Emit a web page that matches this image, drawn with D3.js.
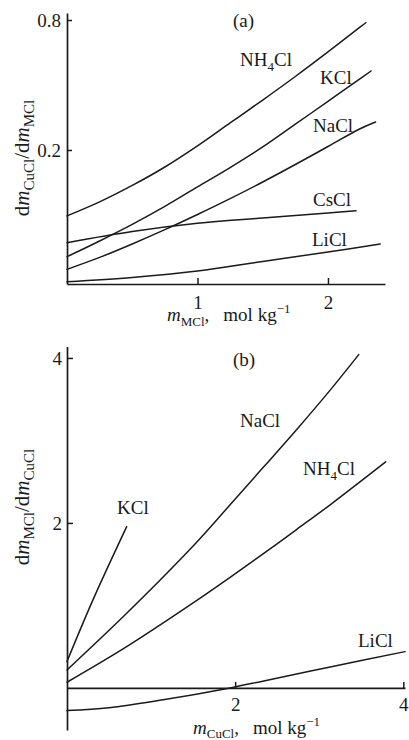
<!DOCTYPE html>
<html>
<head>
<meta charset="utf-8">
<script src="https://cdn.jsdelivr.net/npm/d3@7"></script>
<style>
  html, body { margin: 0; padding: 0; background: #fff; }
  svg { display: block; }
  text { font-family: "Liberation Serif", "Times New Roman", serif; fill: #1a1a1a; }
</style>
</head>
<body>
<svg id="chart" width="409" height="740"></svg>
<script>
// ---------- Panel (a): dm(CuCl)/dm(MCl) versus m(MCl), mol/kg ----------
const nh4clA = [[0,0.099],[0.25,0.115],[0.5,0.137],[0.75,0.1668],[1.0,0.209],[1.25,0.2668],[1.5,0.3408],[1.75,0.438],[2.0,0.569],[2.25,0.745],[2.29,0.777]];
const kclA   = [[0,0.0641],[0.25,0.0758],[0.5,0.0905],[0.75,0.1096],[1.0,0.1349],[1.25,0.1658],[1.5,0.2065],[1.75,0.2634],[2.0,0.3359],[2.25,0.4292],[2.33,0.4644]];
const naclA  = [[0,0.0560],[0.25,0.0636],[0.5,0.0734],[0.75,0.0855],[1.0,0.1005],[1.25,0.1190],[1.5,0.1422],[1.75,0.1713],[2.0,0.2076],[2.25,0.2515],[2.365,0.2696]];
const csclA  = [[0,0.0744],[0.5,0.0838],[1.0,0.0915],[1.5,0.0968],[2.0,0.1022],[2.215,0.1047]];
const liclA  = [[0,0.0491],[0.5,0.0514],[1.0,0.0550],[1.5,0.0609],[2.0,0.0674],[2.40,0.0734]];
const xTicksA = [1, 2];
const yTicksA = [0.2, 0.8];
const xDomainA = [0, 2.437];
const yDomainA = [0.0479, 0.862];

// ---------- Panel (b): dm(MCl)/dm(CuCl) versus m(CuCl), mol/kg ----------
const kclB   = [[0,0.32],[0.31,1.07],[0.71,1.955]];
const naclB  = [[0,0.218],[0.71,0.905],[1.5,1.72],[1.94,2.22],[2.34,2.68],[2.73,3.13],[3.13,3.61],[3.47,4.04]];
const nh4clB = [[0,0.069],[0.71,0.50],[1.5,1.03],[1.94,1.34],[2.34,1.63],[2.73,1.92],[3.13,2.22],[3.79,2.74]];
const liclB  = [[0,-0.275],[0.5,-0.24],[1.107,-0.15],[1.94,0.0],[2.34,0.085],[3.13,0.255],[4.02,0.44]];
const xTicksB = [2, 4];
const yTicksB = [2, 4];
const xDomainB = [0, 4.02];
const yDomainB = [-0.51, 4.14];

const INK = "#1a1a1a";
const FONT = '"Liberation Serif", "Times New Roman", serif';
const svg = d3.select("#chart");

// Append a run of tspans (italic / sub / superscript pieces) to a text node.
function rich(textSel, parts) {
  parts.forEach(p => {
    const t = textSel.append("tspan").text(p.t);
    if (p.i) t.attr("font-style", "italic");
    if (p.size) t.attr("font-size", p.size);
    if (p.dy) t.attr("dy", p.dy);
    if (p.dx) t.attr("dx", p.dx);
  });
  return textSel;
}

function label(x, y, parts, opts = {}) {
  const t = svg.append("text")
    .attr("x", x).attr("y", y)
    .attr("font-size", opts.size || 19)
    .attr("text-anchor", opts.anchor || "start");
  if (opts.rotate) {
    t.attr("x", 0).attr("y", 0)
     .attr("transform", `translate(${x},${y}) rotate(-90)`);
  }
  return rich(t, parts);
}

function styleAxis(g) {
  g.attr("font-size", 19).attr("font-family", FONT);
  g.select(".domain").attr("stroke", INK).attr("stroke-width", 1.7);
  g.selectAll(".tick line").attr("stroke", INK).attr("stroke-width", 1.5);
  g.selectAll(".tick text").attr("fill", INK);
}

function drawCurves(series, x, y) {
  const line = d3.line()
    .x(d => x(d[0]))
    .y(d => y(d[1]))
    .curve(d3.curveCatmullRom.alpha(0.5));
  svg.append("g").selectAll("path")
    .data(series)
    .join("path")
    .attr("d", line)
    .attr("fill", "none")
    .attr("stroke", INK)
    .attr("stroke-width", 1.5)
    .attr("stroke-linecap", "round");
}

const salt = (name) => {
  if (name === "NH4Cl") return [{ t: "NH" }, { t: "4", size: 13, dy: 5 }, { t: "Cl", dy: -5 }];
  return [{ t: name }];
};

// ===== Panel (a) =====
const xA = d3.scaleLinear().domain(xDomainA).range([67, 385]);
const yA = d3.scaleLog().domain(yDomainA).range([284, 13]);

drawCurves([nh4clA, kclA, naclA, csclA, liclA], xA, yA);

svg.append("g")
  .attr("transform", `translate(0,${yA(yDomainA[0])})`)
  .call(d3.axisBottom(xA).tickValues(xTicksA).tickFormat(d3.format("d"))
        .tickSizeInner(-6).tickSizeOuter(0).tickPadding(12))
  .call(styleAxis);

svg.append("g")
  .attr("transform", `translate(${xA(0)},0)`)
  .call(d3.axisLeft(yA).tickValues(yTicksA).tickFormat(d3.format(".1f"))
        .tickSizeInner(-5).tickSizeOuter(0).tickPadding(6))
  .call(styleAxis);

label(233, 27, [{ t: "(a)" }]);
label(240, 66, salt("NH4Cl"));
label(320, 84, salt("KCl"));
label(313, 132, salt("NaCl"));
label(313, 206, salt("CsCl"));
label(312, 246, salt("LiCl"));

label(167, 321, [
  { t: "m", i: true }, { t: "MCl", size: 13, dy: 5 },
  { t: ",", dy: -5 }, { t: "mol kg", dx: 14 }, { t: "\u22121", size: 13, dy: -8 }
]);
label(29, 158, [
  { t: "d" }, { t: "m", i: true }, { t: "CuCl", size: 15, dy: 5 },
  { t: "/d", dy: -5 }, { t: "m", i: true }, { t: "MCl", size: 15, dy: 5 }
], { rotate: true, anchor: "middle", size: 21 });

// ===== Panel (b) =====
const xB = d3.scaleLinear().domain(xDomainB).range([67, 405]);
const yB = d3.scaleLinear().domain(yDomainB).range([730, 346.4]);

drawCurves([kclB, naclB, nh4clB, liclB], xB, yB);

svg.append("g")
  .attr("transform", `translate(0,${yB(0)})`)
  .call(d3.axisBottom(xB).tickValues(xTicksB).tickFormat(d3.format("d"))
        .tickSizeInner(-6).tickSizeOuter(0).tickPadding(10))
  .call(styleAxis);

svg.append("g")
  .attr("transform", `translate(${xB(0)},0)`)
  .call(d3.axisLeft(yB).tickValues(yTicksB).tickFormat(d3.format("d"))
        .tickSizeInner(-6).tickSizeOuter(0).tickPadding(5))
  .call(styleAxis);

label(233, 366, [{ t: "(b)" }]);
label(117, 514, salt("KCl"));
label(240, 427, salt("NaCl"));
label(303, 475, salt("NH4Cl"));
label(358, 647, salt("LiCl"));

label(193, 734, [
  { t: "m", i: true }, { t: "CuCl", size: 13, dy: 4 },
  { t: ",", dy: -4 }, { t: "mol kg", dx: 14 }, { t: "\u22121", size: 13, dy: -8 }
]);
label(29, 507, [
  { t: "d" }, { t: "m", i: true }, { t: "MCl", size: 15, dy: 5 },
  { t: "/d", dy: -5 }, { t: "m", i: true }, { t: "CuCl", size: 15, dy: 5 }
], { rotate: true, anchor: "middle", size: 21 });
</script>
</body>
</html>
